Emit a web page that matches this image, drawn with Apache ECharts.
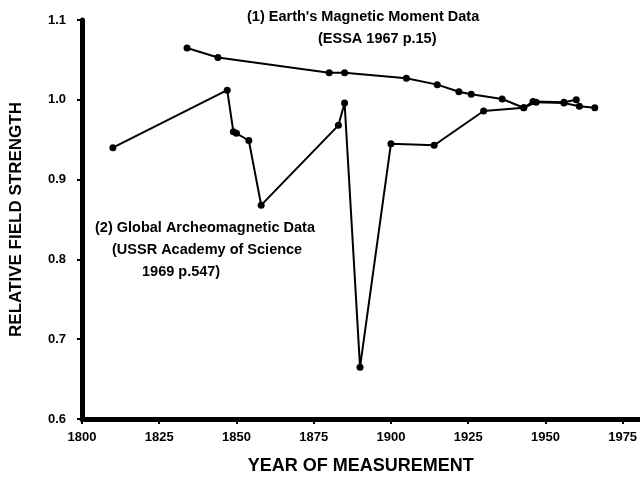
<!DOCTYPE html>
<html>
<head>
<meta charset="utf-8">
<script src="https://cdn.jsdelivr.net/npm/echarts@6/dist/echarts.min.js"></script>
<style>
  html, body { margin: 0; padding: 0; background: #fff; }
  #chart { width: 640px; height: 480px; }
</style>
</head>
<body>
<div id="chart"></div>
<script>
// (1) Earth's magnetic moment data
const momentYears = [1834, 1844, 1880, 1885, 1905, 1915, 1922, 1926, 1936, 1943, 1947, 1956, 1961, 1966]
const momentValues = [1.065, 1.053, 1.034, 1.034, 1.027, 1.019, 1.010, 1.007, 1.001, 0.990, 0.997, 0.996, 0.992, 0.990]

// (2) Global archeomagnetic data
const archeoYears = [1810, 1847, 1849, 1850, 1854, 1858, 1883, 1885, 1890, 1900, 1914, 1930, 1943, 1946, 1956, 1960]
const archeoValues = [0.940, 1.012, 0.960, 0.958, 0.949, 0.868, 0.968, 0.996, 0.665, 0.945, 0.943, 0.986, 0.990, 0.998, 0.997, 1.000]

const toPairs = (xs, ys) => xs.map((x, i) => [x, ys[i]])

const font = 'Liberation Sans, Arial, sans-serif'

const chart = echarts.init(document.getElementById('chart'))

const lineSeries = (name, data) => ({
  name,
  type: 'line',
  data,
  symbol: 'circle',
  symbolSize: 7,
  lineStyle: { color: '#000', width: 2 },
  itemStyle: { color: '#000' },
  animation: false,
})

const note = (text, left, top) => ({
  type: 'text', left, top,
  style: { text, fill: '#000', font: `bold 14.5px ${font}` },
})

chart.setOption({
  backgroundColor: '#fff',
  grid: { left: 79, right: 0, top: 20, bottom: 61 },
  xAxis: {
    type: 'value',
    min: 1800,
    max: 1980.5,
    interval: 25,
    name: 'YEAR OF MEASUREMENT',
    nameLocation: 'middle',
    nameGap: 38,
    nameTextStyle: { color: '#000', fontFamily: font, fontWeight: 'bold', fontSize: 18 },
    axisLine: { lineStyle: { color: '#000', width: 5 } },
    axisTick: { length: 5, lineStyle: { color: '#000', width: 2 } },
    axisLabel: {
      color: '#000', fontFamily: font, fontWeight: 'bold', fontSize: 13, margin: 12, showMaxLabel: false,
      formatter: v => String(v),
    },
    splitLine: { show: false },
  },
  yAxis: {
    type: 'value',
    min: 0.6,
    max: 1.1,
    interval: 0.1,
    name: 'RELATIVE FIELD STRENGTH',
    nameLocation: 'middle',
    nameGap: 57,
    nameTextStyle: { color: '#000', fontFamily: font, fontWeight: 'bold', fontSize: 17 },
    axisLine: { show: true, lineStyle: { color: '#000', width: 5 } },
    axisTick: { show: true, length: 5, lineStyle: { color: '#000', width: 2 } },
    axisLabel: {
      color: '#000', fontFamily: font, fontWeight: 'bold', fontSize: 13, margin: 16,
      formatter: v => v.toFixed(1),
    },
    splitLine: { show: false },
  },
  graphic: [
    note("(1) Earth's Magnetic Moment Data", 247, 9),
    note('(ESSA 1967 p.15)', 318, 31),
    note('(2) Global Archeomagnetic Data', 95, 220),
    note('(USSR Academy of Science', 112, 242),
    note('1969 p.547)', 142, 264),
  ],
  series: [
    lineSeries('Magnetic Moment', toPairs(momentYears, momentValues)),
    lineSeries('Archeomagnetic', toPairs(archeoYears, archeoValues)),
  ],
})
</script>
</body>
</html>
